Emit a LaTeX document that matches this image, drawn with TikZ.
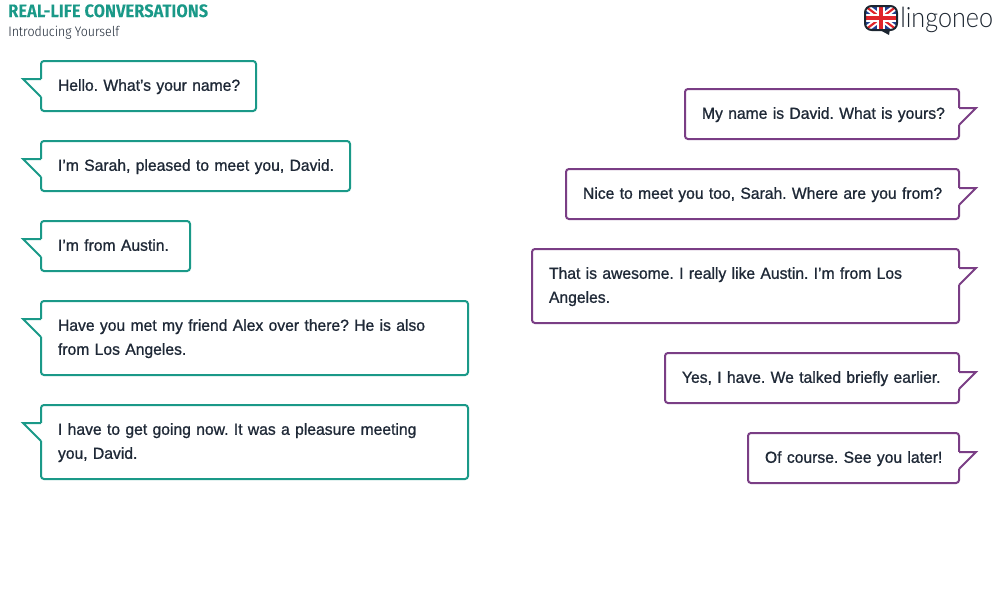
\documentclass[tikz,border=0pt]{standalone}
\usepackage{fontspec}
\setmainfont{Liberation Sans}[FakeBold=1,FakeStretch=0.98]
\newfontfamily\titlefont{Fira Sans Condensed SemiBold}[LetterSpace=0.8,FakeBold=0.3]
\newfontfamily\subfont{Fira Sans Condensed Light}
\newfontfamily\logofont{Lato Light}[FakeStretch=0.9]
\usetikzlibrary{calc}
\definecolor{tealline}{HTML}{1A9988}
\definecolor{purpleline}{HTML}{7A3E85}
\definecolor{inktext}{HTML}{1F2937}
\definecolor{flagblue}{HTML}{1F3F8F}
\definecolor{flagred}{HTML}{E0252B}
\definecolor{logoink}{HTML}{1C2530}
\hyphenpenalty=10000
\tikzset{
  bubble/.style={draw, fill=white, line width=1.5pt, rounded corners=2.2pt, anchor=north west,
    inner xsep=0pt, inner ysep=0pt, outer sep=0pt, align=left, text=inktext,
    font=\fontsize{12}{18}\selectfont\frenchspacing,
    execute at begin node=\strut, execute at end node=\strut},
  lbubble/.style={bubble, draw=tealline},
  rbubble/.style={bubble, draw=purpleline},
  ltail/.style={draw=tealline, fill=white, line width=1.5pt, miter limit=20},
  rtail/.style={draw=purpleline, fill=white, line width=1.5pt, miter limit=20},
}
\begin{document}
\begin{tikzpicture}[x=0.75pt,y=-0.75pt]
\useasboundingbox (0,0) rectangle (1000,600);
\node[anchor=base west, inner sep=0pt, text=tealline, font=\titlefont\fontsize{13.5}{16}\selectfont] (title) at (8,17) {REAL-LIFE CONVERSATIONS};
\node[anchor=base west, inner sep=0pt, text=inktext, font=\subfont\fontsize{10.3}{12}\selectfont] (subtitle) at (8,36) {Introducing Yourself};
% left column
\node[lbubble, minimum width=161.25pt, minimum height=37.5pt, text width=135.75pt] (l1) at (41,61) {\mbox{Hello. What's your name?}};
\node[lbubble, minimum width=231.75pt, minimum height=37.5pt, text width=206.25pt] (l2) at (41,141) {\mbox{I'm Sarah, pleased to meet you, David.}};
\node[lbubble, minimum width=111.75pt, minimum height=37.5pt, text width=86.25pt] (l3) at (41,221) {\mbox{I'm from Austin.}};
\node[lbubble, minimum width=320.25pt, minimum height=55.5pt, text width=294.75pt] (l4) at (41,301) {Have you met my friend Alex over there? He is also\\from Los Angeles.};
\node[lbubble, minimum width=320.25pt, minimum height=55.5pt, text width=294.75pt] (l5) at (41,405) {I have to get going now. It was a pleasure meeting\\you, David.};
% right column
\node[rbubble, minimum width=205.5pt, minimum height=37.5pt, text width=180pt] (r1) at (685,89) {\mbox{My name is David. What is yours?}};
\node[rbubble, minimum width=294.75pt, minimum height=37.5pt, text width=269.25pt] (r2) at (566,169) {\mbox{Nice to meet you too, Sarah. Where are you from?}};
\node[rbubble, minimum width=320.25pt, minimum height=55.5pt, text width=294.75pt] (r3) at (532,249) {That is awesome. I really like Austin. I'm from Los\\Angeles.};
\node[rbubble, minimum width=220.5pt, minimum height=37.5pt, text width=195pt] (r4) at (665,353) {\mbox{Yes, I have. We talked briefly earlier.}};
\node[rbubble, minimum width=158.25pt, minimum height=37.5pt, text width=132.75pt] (r5) at (748,433) {\mbox{Of course. See you later!}};
% tails
\foreach \b in {l1,l2,l3,l4,l5} {
  \fill[white] ($(\b.north west)+(-1.5,18)$) rectangle ($(\b.north west)+(1.5,36)$);
  \draw[ltail] ($(\b.north west)+(0,18)$) -- ++(-18,0) -- ($(\b.north west)+(0,36)$);
}
\foreach \b in {r1,r2,r3,r4,r5} {
  \fill[white] ($(\b.north east)+(-1.5,19)$) rectangle ($(\b.north east)+(1.5,36)$);
  \draw[rtail] ($(\b.north east)+(0,19)$) -- ++(17,0) -- ($(\b.north east)+(0,36)$);
}
% logo
\begin{scope}
  \clip[rounded corners=5pt] (865,6) rectangle (897,30);
  \fill[flagblue] (865,6) rectangle (897,30);
  \draw[white, line width=4.5pt] (865,6) -- (897,30) (897,6) -- (865,30);
  \draw[flagred, line width=1.6pt] (865,6) -- (897,30) (897,6) -- (865,30);
  \draw[white, line width=6pt] (881,6) -- (881,30) (865,18) -- (897,18);
  \draw[flagred, line width=3.5pt] (881,6) -- (881,30) (865,18) -- (897,18);
\end{scope}
\draw[logoink, line width=1.5pt, rounded corners=5pt] (865,6) rectangle (897,30);
\fill[logoink] (878,29) -- (890,29) -- (889,35) -- cycle;
\node[anchor=base west, inner sep=0pt, text=logoink, font=\logofont\fontsize{21}{24}\selectfont] (logo) at (900,27.5) {lingoneo};
\end{tikzpicture}
\end{document}
